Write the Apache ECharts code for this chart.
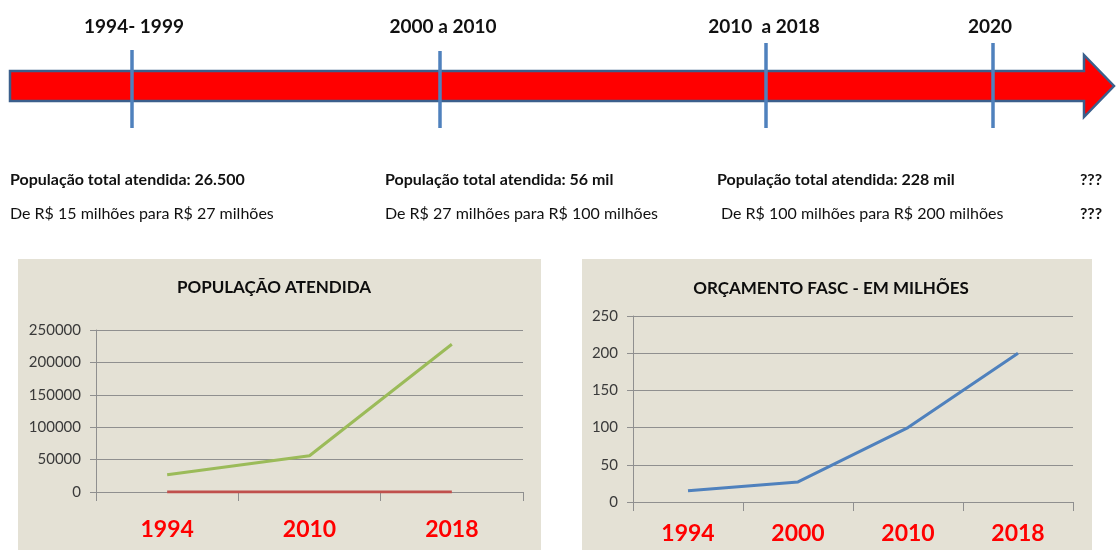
<!DOCTYPE html>
<html>
<head>
<meta charset="utf-8">
<script src="https://cdn.jsdelivr.net/npm/echarts@6/dist/echarts.min.js"></script>
<style>
html,body{margin:0;padding:0;background:#fff;}
#chart{width:1116px;height:550px;}
</style>
</head>
<body>
<div id="chart"></div>
<script>
// ---- data ----
const popYears = ['1994', '2010', '2018'];
const popServed = [26500, 56000, 228000];
const popBaseline = [0, 0, 0];
const popTitle = 'POPULAÇÃO ATENDIDA';

const budgetYears = ['1994', '2000', '2010', '2018'];
const budgetMillions = [15, 27, 100, 200];
const budgetTitle = 'ORÇAMENTO FASC - EM MILHÕES';

const timelinePeriods = ['1994- 1999', '2000 a 2010', '2010  a 2018', '2020'];
const populationNotes = ['População total atendida: 26.500', 'População total atendida: 56 mil', 'População total atendida: 228 mil', '???'];
const budgetNotes = ['De R$ 15 milhões para R$ 27 milhões', 'De R$ 27 milhões para R$ 100 milhões', 'De R$ 100 milhões para R$ 200 milhões', '???'];

// ---- layout ----
const FONT = 'Lato, "Open Sans", sans-serif';
const markerX = [132, 440, 766, 993];
const markerTop = [50, 51, 43, 43];
const labelX = [134, 443, 764, 990];
const noteX1 = [10, 385, 717, 1080];
const noteX2 = [10, 385, 721, 1080];

const graphics = [];
// panels
graphics.push({type: 'rect', z: -100, shape: {x: 18, y: 259, width: 523, height: 291}, style: {fill: '#E4E1D5'}});
graphics.push({type: 'rect', z: -100, shape: {x: 582, y: 259, width: 510, height: 291}, style: {fill: '#E4E1D5'}});
// arrow
graphics.push({type: 'polygon', z: 1, shape: {points: [[10, 71], [1084, 71], [1084, 55], [1114, 86], [1084, 117], [1084, 101], [10, 101]]},
  style: {fill: '#FF0000', stroke: '#3B5F8C', lineWidth: 2.5}});
markerX.forEach((x, i) => {
  graphics.push({type: 'line', z: 2, shape: {x1: x, y1: markerTop[i], x2: x, y2: 128}, style: {stroke: '#4F81BD', lineWidth: 3.5}});
  graphics.push({type: 'text', z: 2, x: labelX[i], y: 27, style: {text: timelinePeriods[i], fill: '#111', font: 'bold 19px ' + FONT, textAlign: 'center', textVerticalAlign: 'middle'}});
});
populationNotes.forEach((t, i) => {
  graphics.push({type: 'text', z: 2, x: noteX1[i], y: 180, style: {text: t, fill: '#111', font: 'bold 16px ' + FONT, textAlign: 'left', textVerticalAlign: 'middle'}});
});
budgetNotes.forEach((t, i) => {
  graphics.push({type: 'text', z: 2, x: noteX2[i], y: 214, style: {text: t, fill: '#111', font: (i === 3 ? 'bold ' : '') + '16px ' + FONT, textAlign: 'left', textVerticalAlign: 'middle'}});
});
// chart titles
graphics.push({type: 'text', z: 2, x: 274, y: 288, style: {text: popTitle, fill: '#0d0d0d', font: 'bold 17px ' + FONT, textAlign: 'center', textVerticalAlign: 'middle'}});
graphics.push({type: 'text', z: 2, x: 831, y: 289, style: {text: budgetTitle, fill: '#0d0d0d', font: 'bold 17px ' + FONT, textAlign: 'center', textVerticalAlign: 'middle'}});

const gridColor = '#8F8F8F';
function catAxis(gridIndex, data, margin) {
  return {
    type: 'category', gridIndex, data, boundaryGap: true,
    axisLine: {show: true, lineStyle: {color: gridColor, width: 1}},
    axisTick: {show: true, length: 9, interval: 0, lineStyle: {color: gridColor}},
    axisLabel: {color: '#FF0000', fontFamily: FONT, fontWeight: 'bold', fontSize: 23, margin, interval: 0}
  };
}
function valAxis(gridIndex, max, interval) {
  return {
    type: 'value', gridIndex, min: 0, max, interval,
    axisLine: {show: true, lineStyle: {color: gridColor, width: 1}},
    axisTick: {show: true, length: 6, lineStyle: {color: gridColor}},
    splitLine: {show: true, lineStyle: {color: gridColor, width: 1}},
    axisLabel: {color: '#3a3a3a', fontFamily: FONT, fontSize: 15, margin: 15, formatter: v => String(v)}
  };
}

const chart = echarts.init(document.getElementById('chart'), null, {renderer: 'canvas'});
chart.setOption({
  backgroundColor: '#ffffff',
  animation: false,
  graphic: graphics,
  grid: [
    {left: 96, right: 1116 - 523, top: 330, bottom: 550 - 492},
    {left: 633, right: 1116 - 1073, top: 316, bottom: 550 - 502}
  ],
  xAxis: [catAxis(0, popYears, 26), catAxis(1, budgetYears, 20)],
  yAxis: [valAxis(0, 250000, 50000), valAxis(1, 250, 50)],
  series: [
    {type: 'line', xAxisIndex: 0, yAxisIndex: 0, data: popServed, symbol: 'none', lineStyle: {color: '#9BBB59', width: 3}, z: 3},
    {type: 'line', xAxisIndex: 0, yAxisIndex: 0, data: popBaseline, symbol: 'none', lineStyle: {color: '#C0504D', width: 3}, z: 4},
    {type: 'line', xAxisIndex: 1, yAxisIndex: 1, data: budgetMillions, symbol: 'none', lineStyle: {color: '#4F81BD', width: 3}, z: 3}
  ]
});
</script>
</body>
</html>
